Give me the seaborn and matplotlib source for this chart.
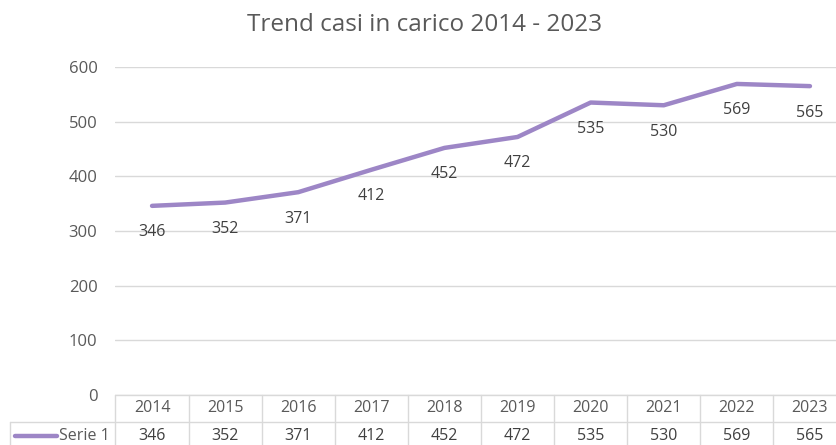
import matplotlib
matplotlib.use("Agg")
import matplotlib.pyplot as plt
import matplotlib.transforms as mtransforms
import numpy as np
import pandas as pd
import seaborn as sns

# data
years = ["2014", "2015", "2016", "2017", "2018", "2019", "2020", "2021", "2022", "2023"]
casi = [346, 352, 371, 412, 452, 472, 535, 530, 569, 565]
y_ticks = [0, 100, 200, 300, 400, 500, 600]
series_name = "Serie 1"
title = "Trend casi in carico 2014 - 2023"

LINE_COLOR = "#9D86C6"
TEXT_COLOR = "#595959"
GRID_COLOR = "#D9D9D9"

sns.set_theme(style="white")
plt.rcParams["font.family"] = ["Open Sans", "DejaVu Sans"]

W, H = 837, 445
fig = plt.figure(figsize=(W / 100, H / 100), dpi=100)

# plot area in pixels (from top-left); right edge runs past the image like the reference
left_px, right_px, top_px, bottom_px = 115.5, 846.5, 67, 395
ax = fig.add_axes([left_px / W, 1 - bottom_px / H,
                   (right_px - left_px) / W, (bottom_px - top_px) / H])

df = pd.DataFrame({"pos": np.arange(len(years)), "casi": casi})
sns.lineplot(data=df, x="pos", y="casi", ax=ax, color=LINE_COLOR,
             linewidth=3.2, solid_capstyle="round", solid_joinstyle="round")

ax.set_xlim(-0.5, len(years) - 0.5)
ax.set_ylim(0, 600)
ax.set_yticks(y_ticks)
ax.set_xticks([])
ax.set_xlabel("")
ax.set_ylabel("")
ax.tick_params(axis="y", length=0, pad=13, labelsize=12, labelcolor=TEXT_COLOR)
ax.yaxis.grid(True, color=GRID_COLOR, linewidth=1)
ax.set_axisbelow(True)
for s in ax.spines.values():
    s.set_visible(False)

# data labels below points
for i, v in enumerate(casi):
    ax.annotate(str(v), (i, v), xytext=(0, -19), textcoords="offset points",
                ha="center", va="center", fontsize=11.5, color="#404040")

fig.text(425 / W, 1 - 25 / H, title, fontsize=17.5, color=TEXT_COLOR,
         va="center", ha="center")

# data table under the axis
tr = mtransforms.blended_transform_factory(ax.transData, fig.transFigure)
fpx = lambda py: 1 - py / H
row1_top, row2_top, row2_bot = 395, 422, 450
kw = dict(color=GRID_COLOR, linewidth=1, clip_on=False)
ax.plot([-0.5, len(years) - 0.5], [fpx(row1_top)] * 2, transform=tr, **kw)
ax.plot([-0.5, len(years) - 0.5], [fpx(row2_top)] * 2, transform=tr, **kw)
for b in np.arange(len(years) + 1) - 0.5:
    ax.plot([b, b], [fpx(row1_top), fpx(row2_bot)], transform=tr, **kw)
# left cell for the series name
fig.add_artist(plt.Line2D([10 / W, left_px / W], [fpx(row2_top)] * 2,
                          color=GRID_COLOR, linewidth=1))
fig.add_artist(plt.Line2D([10 / W, 10 / W], [fpx(row2_top), fpx(row2_bot)],
                          color=GRID_COLOR, linewidth=1))

for i, (yr, v) in enumerate(zip(years, casi)):
    ax.text(i, fpx(408.5), yr, transform=tr, ha="center", va="center",
            fontsize=11.5, color=TEXT_COLOR)
    ax.text(i, fpx(435.5), str(v), transform=tr, ha="center", va="center",
            fontsize=11.5, color="#404040")

# legend key in the table
fig.add_artist(plt.Line2D([15 / W, 57 / W], [fpx(435.5)] * 2, color=LINE_COLOR,
                          linewidth=3.2, solid_capstyle="round"))
fig.text(110 / W, fpx(435.5), series_name, ha="right", va="center",
         fontsize=11.5, color=TEXT_COLOR)

fig.savefig("out.png", dpi=100)
